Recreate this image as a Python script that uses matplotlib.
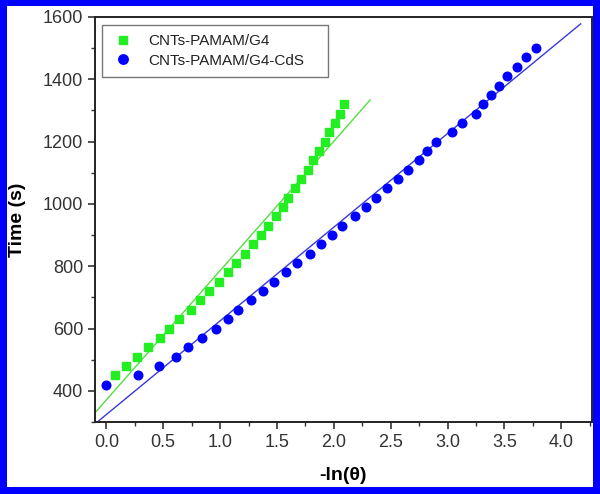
import matplotlib
matplotlib.use("Agg")
import matplotlib.pyplot as plt
from matplotlib.patches import Rectangle
from matplotlib.ticker import MultipleLocator
import numpy as np

plt.rcParams["font.family"] = ["Liberation Sans", "DejaVu Sans"]

# -----------------------------------------------------------------------------
# Data
# -----------------------------------------------------------------------------
g4_x = [0.08, 0.175, 0.27, 0.37, 0.47, 0.55, 0.64, 0.74, 0.82, 0.90,
        0.99, 1.07, 1.14, 1.22, 1.29, 1.36, 1.42, 1.49, 1.55, 1.60,
        1.66, 1.71, 1.77, 1.82, 1.87, 1.92, 1.96, 2.01, 2.05, 2.09]
g4_t = [450, 480, 510, 540, 570, 600, 630, 660, 690, 720,
        750, 780, 810, 840, 870, 900, 930, 960, 990, 1020,
        1050, 1080, 1110, 1140, 1170, 1200, 1230, 1260, 1290, 1320]

cds_x = [0.0, 0.28, 0.46, 0.61, 0.72, 0.84, 0.96, 1.07, 1.16, 1.27,
         1.38, 1.47, 1.58, 1.68, 1.79, 1.89, 1.98, 2.07, 2.19, 2.28,
         2.37, 2.47, 2.56, 2.65, 2.75, 2.82, 2.90, 3.04, 3.13, 3.25,
         3.31, 3.38, 3.45, 3.52, 3.61, 3.69, 3.78]
cds_t = [420, 450, 480, 510, 540, 570, 600, 630, 660, 690,
         720, 750, 780, 810, 840, 870, 900, 930, 960, 990,
         1020, 1050, 1080, 1110, 1140, 1170, 1200, 1230, 1260, 1290,
         1320, 1350, 1380, 1410, 1440, 1470, 1500]

# linear fit lines (slope, intercept, x range) as drawn in the figure
g4_fit = (415.0, 371.0, -0.1, 2.32)
cds_fit = (300.7, 324.0, -0.08, 4.17)

labels = ["CNTs-PAMAM/G4", "CNTs-PAMAM/G4-CdS"]

# -----------------------------------------------------------------------------
# Figure with blue frame
# -----------------------------------------------------------------------------
fig = plt.figure(figsize=(6.0, 4.94), dpi=100, facecolor="#0000ff")
fig.patches.append(Rectangle((7 / 600, 1 - 487 / 494), 586 / 600, 481 / 494,
                             transform=fig.transFigure, facecolor="white",
                             edgecolor="none", zorder=-10))

ax = fig.add_axes([95 / 600, 1 - 422 / 494, 497 / 600, 405 / 494])

ax.plot(g4_x, g4_t, "s", color="#22ee22", markersize=5.3, label=labels[0], zorder=3)
ax.plot(cds_x, cds_t, "o", color="#0000ff", markersize=6.2, label=labels[1], zorder=3)

for (k, b, x0, x1), c in [(g4_fit, "#55dd44"), (cds_fit, "#3838d8")]:
    xs = np.array([x0, x1])
    ax.plot(xs, k * xs + b, "-", color=c, linewidth=1, zorder=2)

ax.set_xlim(-0.1, 4.27)
ax.set_ylim(300, 1600)
ax.xaxis.set_major_locator(MultipleLocator(0.5))
ax.xaxis.set_minor_locator(MultipleLocator(0.25))
ax.yaxis.set_major_locator(MultipleLocator(200))
ax.yaxis.set_minor_locator(MultipleLocator(100))
ax.tick_params(which="major", direction="out", length=5, width=1.2,
               labelsize=13, colors="#333333", top=False, right=False)
ax.tick_params(which="minor", direction="out", length=3, width=1,
               top=False, right=False, colors="#333333")
for s in ax.spines.values():
    s.set_linewidth(1.4)
    s.set_color("#222222")

ax.set_xlabel("-ln(θ)", fontsize=14, fontweight="bold", labelpad=12)
ax.set_ylabel("Time (s)", fontsize=14, fontweight="bold", labelpad=12)

# legend box is wider than its text in the original, so stretch it
leg = ax.legend(loc="upper left", fontsize=11, frameon=True, fancybox=False,
                handlelength=1.6, handletextpad=0.8, borderpad=0.6,
                labelspacing=0.35, borderaxespad=0, markerscale=1.1,
                mode="expand", bbox_to_anchor=(7 / 497, 0.70, 226 / 497, 0.28))
leg.get_frame().set_edgecolor("#555555")
leg.get_frame().set_linewidth(1.0)
for t in leg.get_texts():
    t.set_color("#222222")

fig.savefig("out.png", dpi=100, facecolor=fig.get_facecolor())
